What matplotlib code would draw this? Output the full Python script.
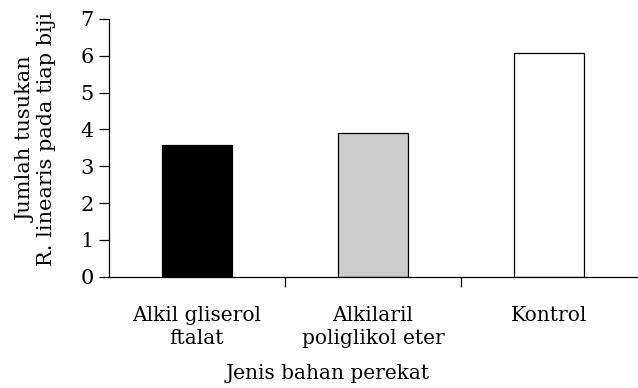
import matplotlib
matplotlib.use("Agg")
import matplotlib.pyplot as plt
import numpy as np

# data
categories = ["Alkil gliserol\nftalat", "Alkilaril\npoliglikol eter", "Kontrol"]
values = [3.58, 3.91, 6.09]
bar_colors = ["#000000", "#cccccc", "#ffffff"]
yticks = [0, 1, 2, 3, 4, 5, 6, 7]

plt.rcParams['font.family'] = ['DejaVu Serif']

fig = plt.figure(figsize=(6.38, 3.88), dpi=100)
ax = fig.add_axes([109/638, 1 - 276.7/388, 528/638, 257.7/388])

x = np.arange(len(categories))
ax.bar(x, values, width=0.4, color=bar_colors, edgecolor="black", linewidth=0.9)

ax.set_xlim(-0.5, len(categories) - 0.5)
ax.set_ylim(0, 7)
ax.set_yticks(yticks)
ax.tick_params(axis='y', direction='out', length=7, width=0.9, labelsize=15, pad=4)

ax.set_xticks(x)
ax.set_xticklabels(categories, fontsize=14.5, linespacing=1.3)
ax.tick_params(axis='x', which='major', length=0, pad=21)
ax.set_xticks([0.5, 1.5], minor=True)
ax.tick_params(axis='x', which='minor', direction='out', length=7, width=0.9)

for s in ['top', 'right']:
    ax.spines[s].set_visible(False)
for s in ['left', 'bottom']:
    ax.spines[s].set_linewidth(0.9)

ax.set_ylabel("Jumlah tusukan\nR. linearis pada tiap biji", fontsize=15, linespacing=1.1)
ax.yaxis.set_label_coords(-0.100, 0.534)
ax.set_xlabel("Jenis bahan perekat", fontsize=14.5, va='top')
ax.xaxis.set_label_coords(0.415, -0.34)

fig.savefig("out.png", dpi=100)
